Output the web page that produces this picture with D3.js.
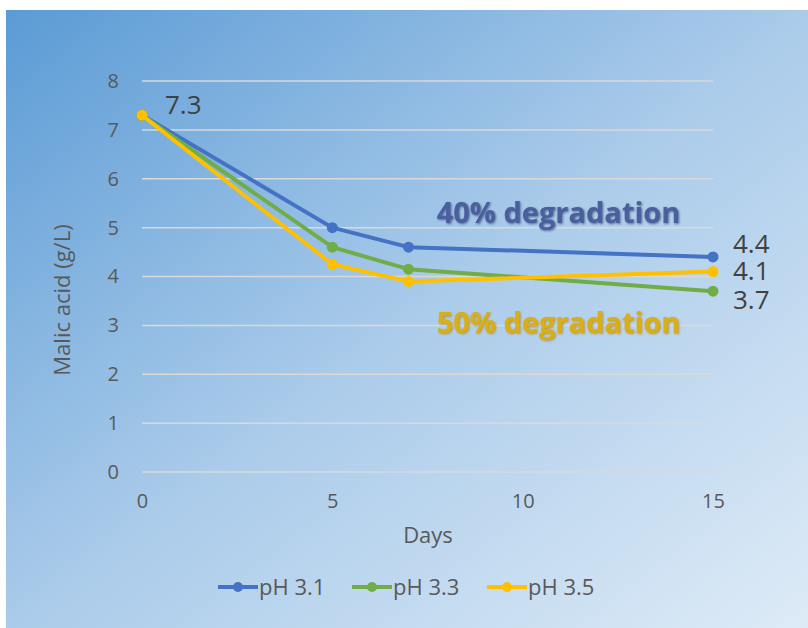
<!DOCTYPE html>
<html><head><meta charset="utf-8">
<script src="https://cdn.jsdelivr.net/npm/d3@7"></script>
<style>body{margin:0;background:#fff;}svg{display:block;}</style>
</head><body>
<svg id="c" width="808" height="628"></svg>
<script>
const days = [0, 5, 7, 15];
const seriesNames = ["pH 3.1", "pH 3.3", "pH 3.5"];
const ph31 = [7.3, 5.0, 4.6, 4.4];
const ph33 = [7.3, 4.6, 4.15, 3.7];
const ph35 = [7.3, 4.25, 3.9, 4.1];
const colors = ["#4472C4", "#70AD47", "#FFC000"];
const xTicks = [0, 5, 10, 15];
const yTicks = [0, 1, 2, 3, 4, 5, 6, 7, 8];
const endLabels = ["4.4", "4.1", "3.7"];
const endLabelY = [4.4, 4.1, 3.7];
const endLabelShift = [-4, 8, 18];
const startLabel = "7.3";
const notes = ["40% degradation", "50% degradation"];

const svg = d3.select("#c");
const font = "'Open Sans', sans-serif";
const defs = svg.append("defs");
const g = defs.append("linearGradient").attr("id","bg").attr("x1","0").attr("y1","0").attr("x2","1").attr("y2","1");
g.append("stop").attr("offset","0").attr("stop-color","#5B9BD5");
g.append("stop").attr("offset","0.5").attr("stop-color","#AACBEA");
g.append("stop").attr("offset","1").attr("stop-color","#DEEBF7");
function glow(id, col){
  const f = defs.append("filter").attr("id",id).attr("x","-10%").attr("y","-30%").attr("width","120%").attr("height","160%");
  f.append("feGaussianBlur").attr("in","SourceAlpha").attr("stdDeviation","1.2").attr("result","b");
  f.append("feOffset").attr("in","b").attr("dx","1").attr("dy","1").attr("result","o");
  f.append("feFlood").attr("flood-color",col).attr("flood-opacity","0.7");
  f.append("feComposite").attr("in2","o").attr("operator","in").attr("result","s");
  const fm = f.append("feMerge");
  fm.append("feMergeNode").attr("in","s");
  fm.append("feMergeNode").attr("in","SourceGraphic");
}
glow("glowB","#2F3F66");
glow("glowY","#B07A00");

svg.append("rect").attr("x",6).attr("y",10).attr("width",802).attr("height",618).attr("fill","url(#bg)");

const x = d3.scaleLinear().domain([0,15]).range([142,713]);
const y = d3.scaleLinear().domain([0,8]).range([472,81]);

svg.append("g").selectAll("line").data(yTicks).join("line")
  .attr("x1",x(0)).attr("x2",x(15)).attr("y1",d=>y(d)).attr("y2",d=>y(d))
  .attr("stroke","#D9D9D9").attr("stroke-width",1.5);

const ya = svg.append("g").attr("transform",`translate(${x(0)-23},0)`)
  .call(d3.axisLeft(y).tickValues(yTicks).tickSize(0).tickPadding(0));
ya.select(".domain").remove();
ya.selectAll("text").attr("font-family",font).attr("font-size",20).attr("fill","#595959");

const xa = svg.append("g").attr("transform",`translate(0,${y(0)+36})`)
  .call(d3.axisBottom(x).tickValues(xTicks).tickSize(0).tickPadding(0));
xa.select(".domain").remove();
xa.selectAll("text").attr("font-family",font).attr("font-size",20).attr("fill","#595959").attr("y",0).attr("dy",0);

svg.append("text").attr("transform","translate(70,300) rotate(-90)").attr("text-anchor","middle")
  .attr("font-family",font).attr("font-size",22).attr("fill","#595959").text("Malic acid (g/L)");
svg.append("text").attr("x",428).attr("y",543).attr("text-anchor","middle")
  .attr("font-family",font).attr("font-size",22).attr("fill","#595959").text("Days");

const data = [ph31, ph33, ph35];
const line = d3.line().x((d,i)=>x(days[i])).y(d=>y(d));
data.forEach((s,k)=>{
  svg.append("path").datum(s).attr("d",line).attr("fill","none")
    .attr("stroke",colors[k]).attr("stroke-width",4).attr("stroke-linejoin","round");
  svg.append("g").selectAll("circle").data(s).join("circle")
    .attr("cx",(d,i)=>x(days[i])).attr("cy",d=>y(d)).attr("r",5.5).attr("fill",colors[k]);
});

svg.append("text").attr("x",x(0)+23).attr("y",y(7.3)-1).attr("font-family",font).attr("font-size",26)
  .attr("fill","#404040").text(startLabel);
svg.append("g").selectAll("text").data(endLabels).join("text")
  .attr("x",x(15)+20).attr("y",(d,i)=>y(endLabelY[i])+endLabelShift[i])
  .attr("font-family",font).attr("font-size",26).attr("fill","#404040").text(d=>d);

svg.append("text").attr("x",558.5).attr("y",223).attr("text-anchor","middle").attr("font-family",font)
  .attr("font-weight","bold").attr("font-size",29).attr("fill","#4A5F9E").attr("filter","url(#glowB)").text(notes[0]);
svg.append("text").attr("x",558.5).attr("y",333).attr("text-anchor","middle").attr("font-family",font)
  .attr("font-weight","bold").attr("font-size",29).attr("fill","#D9AE12").attr("filter","url(#glowY)").text(notes[1]);

const lx = [218, 352, 487];
const lg = svg.append("g").selectAll("g").data(seriesNames).join("g")
  .attr("transform",(d,i)=>`translate(${lx[i]},587)`);
lg.append("line").attr("x1",0).attr("x2",40).attr("stroke",(d,i)=>colors[i]).attr("stroke-width",4);
lg.append("circle").attr("cx",20).attr("r",5).attr("fill",(d,i)=>colors[i]);
lg.append("text").attr("x",41).attr("y",7.5).attr("font-family",font).attr("font-size",22)
  .attr("fill","#595959").text(d=>d);
</script>
</body></html>
